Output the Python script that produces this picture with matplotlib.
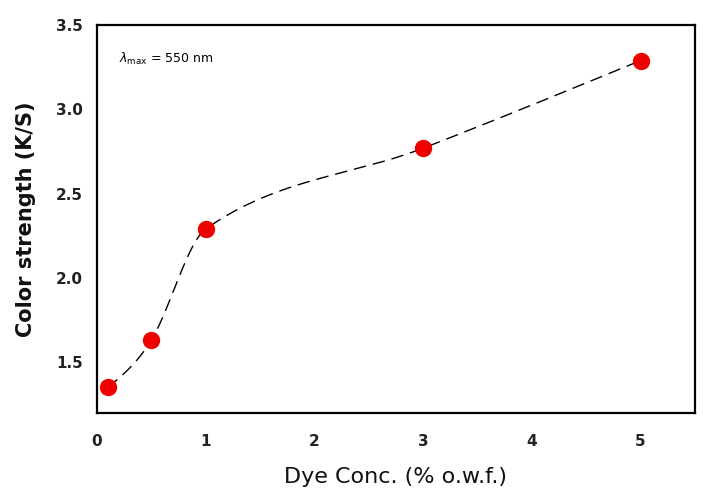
import matplotlib
matplotlib.use("Agg")
import matplotlib.pyplot as plt
import numpy as np

# dados
conc = [0.1, 0.5, 1.0, 3.0, 5.0]
ks = [1.35, 1.63, 2.29, 2.77, 3.29]
xticks = [0, 1, 2, 3, 4, 5]
yticks = [1.5, 2.0, 2.5, 3.0, 3.5]


# linha suave: hermite cubica com tangentes centradas (catmull-rom)
def suave(x, y, xs):
    x = np.asarray(x, float)
    y = np.asarray(y, float)
    n = len(x)
    h = np.diff(x)
    m = np.zeros(n)
    for k in range(1, n - 1):
        m[k] = (y[k + 1] - y[k - 1]) / (x[k + 1] - x[k - 1])
    d = np.diff(y) / h
    m[0] = (3 * d[0] - m[1]) / 2
    m[-1] = (3 * d[-1] - m[-2]) / 2
    ys = np.empty_like(xs)
    for j, xv in enumerate(xs):
        k = int(np.clip(np.searchsorted(x, xv) - 1, 0, n - 2))
        t = (xv - x[k]) / h[k]
        h00 = 2 * t**3 - 3 * t**2 + 1
        h10 = t**3 - 2 * t**2 + t
        h01 = -2 * t**3 + 3 * t**2
        h11 = t**3 - t**2
        ys[j] = h00 * y[k] + h10 * h[k] * m[k] + h01 * y[k + 1] + h11 * h[k] * m[k + 1]
    return ys


plt.rcParams['font.family'] = ['DejaVu Sans']

fig = plt.figure(figsize=(7.12, 5.04), dpi=100)
ax = fig.add_axes([0.136, 0.181, 0.840, 0.769])

xs = np.linspace(conc[0], conc[-1], 400)
ax.plot(xs, suave(conc, ks, xs), color='black', lw=1.0, dashes=(9, 5))
ax.plot(conc, ks, 'o', color='#ee0000', markersize=12.5, markeredgewidth=0)

ax.set_xlim(0, 5.5)
ax.set_ylim(1.2, 3.5)
ax.set_xticks(xticks)
ax.set_yticks(yticks)
ax.set_xticklabels([str(v) for v in xticks], fontweight='bold', fontsize=11, color='#222222')
ax.set_yticklabels(['%.1f' % v for v in yticks], fontweight='bold', fontsize=11, color='#222222')
ax.tick_params(length=0, pad=10)
ax.tick_params(axis='x', pad=15)

for s in ax.spines.values():
    s.set_linewidth(1.6)

ax.set_xlabel('Dye Conc. (% o.w.f.)', fontsize=16, labelpad=13, color='#111111')
ax.set_ylabel('Color strength (K/S)', fontsize=15, fontweight='bold', labelpad=14, color='#111111')

ax.text(0.2, 3.3, r'$\lambda_{\mathrm{max}}$ = 550 nm', fontsize=9, va='center')

plt.savefig("out.png", dpi=100)
plt.close()
